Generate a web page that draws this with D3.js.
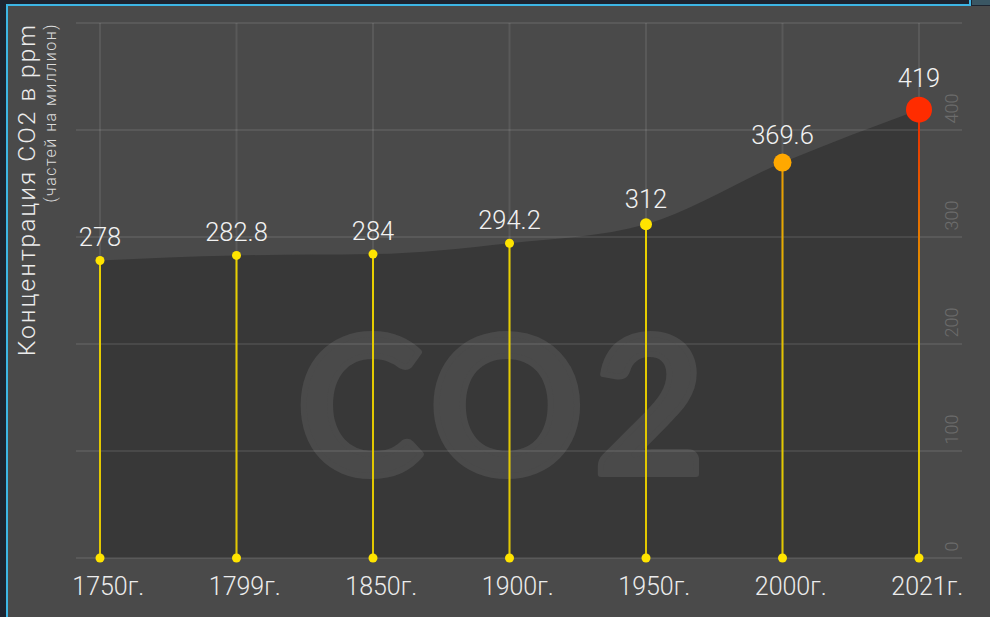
<!DOCTYPE html>
<html>
<head>
<meta charset="utf-8">
<script src="https://cdn.jsdelivr.net/npm/d3@7/dist/d3.min.js"></script>
<style>
  html, body { margin: 0; padding: 0; background: #1d2430; }
  svg { display: block; font-family: Roboto, "Open Sans", sans-serif; }
</style>
</head>
<body>
<svg id="chart" width="990" height="617"></svg>
<script>
// CO2 concentration in the atmosphere, ppm
const years = [1750, 1799, 1850, 1900, 1950, 2000, 2021];
const values = [278, 282.8, 284, 294.2, 312, 369.6, 419];
const yTicks = [0, 100, 200, 300, 400];
const yTitle = "Концентрация CO2 в ppm";
const ySubtitle = "(частей на миллион)";
const yearSuffix = "г.";
const watermark = "CO2";

const data = years.map((yr, i) => ({ year: yr, value: values[i] }));

const W = 990, H = 617;
const svg = d3.select("#chart");

// frame: dark page, cyan edge, grey panel
svg.append("rect").attr("width", W).attr("height", H).attr("fill", "#1d2430");
svg.append("rect").attr("x", 972).attr("y", 0).attr("width", 18).attr("height", 5).attr("fill", "#3a5663");
svg.append("rect").attr("x", 6).attr("y", 4).attr("width", 965).attr("height", 2).attr("fill", "#3db6e6");
svg.append("rect").attr("x", 969).attr("y", 0).attr("width", 2).attr("height", 6).attr("fill", "#3db6e6");
svg.append("rect").attr("x", 6).attr("y", 4).attr("width", 2).attr("height", H).attr("fill", "#3db6e6");
svg.append("rect").attr("x", 8).attr("y", 6).attr("width", W - 8).attr("height", H - 6).attr("fill", "#4a4a4a");

const gridLeft = 76, gridRight = 962;
const x = d3.scalePoint().domain(years).range([100, 919]);
const y = d3.scaleLinear().domain([0, 500]).range([558, 23]);

// dot styling by value
const radius = d3.scaleLinear().domain([300, 312, 369.6, 419]).range([4.5, 6, 9, 13]).clamp(true);
const dotColor = d3.scaleLinear().domain([312, 369.6, 419])
  .range(["#ffe400", "#ffa800", "#ff2c00"]).clamp(true);
const stemBase = "#e2c800";

// filled area under the curve
const area = d3.area()
  .x(d => x(d.year))
  .y0(y(0))
  .y1(d => y(d.value))
  .curve(d3.curveMonotoneX);
svg.append("path").datum(data).attr("d", area).attr("fill", "#383838");

// big watermark (outlined to give it a heavier weight)
svg.append("text")
  .attr("x", 505).attr("y", 474)
  .attr("text-anchor", "middle")
  .style("font-family", "Lato, 'Open Sans', sans-serif")
  .attr("font-weight", 700)
  .attr("font-size", 192)
  .attr("letter-spacing", 9)
  .attr("fill", "#4a4a4a")
  .attr("stroke", "#4a4a4a")
  .attr("stroke-width", 6)
  .attr("stroke-linejoin", "round")
  .text(watermark);

// grid
const grid = svg.append("g").attr("stroke", "rgba(255,255,255,0.085)").attr("stroke-width", 2);
grid.selectAll("line.h").data(y.ticks(5)).join("line")
  .attr("class", "h")
  .attr("x1", gridLeft).attr("x2", gridRight)
  .attr("y1", d => y(d)).attr("y2", d => y(d));
grid.selectAll("line.v").data(years).join("line")
  .attr("class", "v")
  .attr("x1", d => x(d)).attr("x2", d => x(d))
  .attr("y1", y(500)).attr("y2", y(0));

// right value axis with rotated labels
const axis = svg.append("g")
  .attr("transform", "translate(952,0)")
  .call(d3.axisRight(y).tickValues(yTicks).tickSize(0).tickPadding(0));
axis.select(".domain").remove();
axis.selectAll(".tick text")
  .attr("transform", "rotate(-90)")
  .attr("x", 7).attr("y", 0).attr("dy", "0.36em")
  .attr("text-anchor", "start")
  .style("font-family", "Roboto, sans-serif")
  .attr("font-weight", 300)
  .attr("font-size", 18)
  .attr("fill", "#6c6c6c");

// stems with colour fading from the dot to yellow
const defs = svg.append("defs");
data.forEach((d, i) => {
  const g = defs.append("linearGradient")
    .attr("id", "stem" + i)
    .attr("gradientUnits", "userSpaceOnUse")
    .attr("x1", 0).attr("x2", 0)
    .attr("y1", y(d.value)).attr("y2", y(0));
  const top = d3.color(dotColor(d.value)).darker(0.25).formatHex();
  g.append("stop").attr("offset", 0).attr("stop-color", top);
  g.append("stop").attr("offset", 0.55).attr("stop-color", stemBase);
  g.append("stop").attr("offset", 1).attr("stop-color", stemBase);
});
svg.selectAll("rect.stem").data(data).join("rect")
  .attr("class", "stem")
  .attr("x", d => x(d.year) - 1)
  .attr("width", 2)
  .attr("y", d => y(d.value))
  .attr("height", d => y(0) - y(d.value))
  .attr("fill", (d, i) => `url(#stem${i})`);

// base dots
svg.selectAll("circle.base").data(data).join("circle")
  .attr("class", "base")
  .attr("cx", d => x(d.year)).attr("cy", y(0))
  .attr("r", 4.5).attr("fill", "#ffe400");

// value dots
svg.selectAll("circle.val").data(data).join("circle")
  .attr("class", "val")
  .attr("cx", d => x(d.year)).attr("cy", d => y(d.value))
  .attr("r", d => radius(d.value))
  .attr("fill", d => dotColor(d.value));

// value labels
svg.selectAll("text.val").data(data).join("text")
  .attr("class", "val")
  .attr("x", d => x(d.year))
  .attr("y", d => y(d.value) - radius(d.value) - 10)
  .attr("text-anchor", "middle")
  .attr("font-size", 25.5)
  .attr("font-weight", 300)
  .attr("fill", "#f2f2f2")
  .text(d => d.value);

// year labels, the number centred on its stem
const yl = svg.selectAll("text.year").data(data).join("text")
  .attr("class", "year")
  .attr("y", 595)
  .attr("font-size", 25)
  .attr("font-weight", 300)
  .attr("fill", "#ececec")
  .text(d => d.year + yearSuffix);
yl.each(function (d) {
  const n = String(d.year).length;
  const w = this.getSubStringLength(0, n);
  d3.select(this).attr("x", x(d.year) - w / 2);
});

// axis titles
svg.append("text")
  .attr("transform", "translate(35,23) rotate(-90)")
  .attr("text-anchor", "end")
  .attr("font-size", 24.5)
  .attr("font-weight", 300)
  .attr("letter-spacing", 2)
  .attr("fill", "#ececec")
  .text(yTitle);
svg.append("text")
  .attr("transform", "translate(56,23) rotate(-90)")
  .attr("text-anchor", "end")
  .attr("font-size", 16)
  .attr("font-weight", 300)
  .attr("letter-spacing", 1.5)
  .attr("fill", "#dcdcdc")
  .text(ySubtitle);
</script>
</body>
</html>
